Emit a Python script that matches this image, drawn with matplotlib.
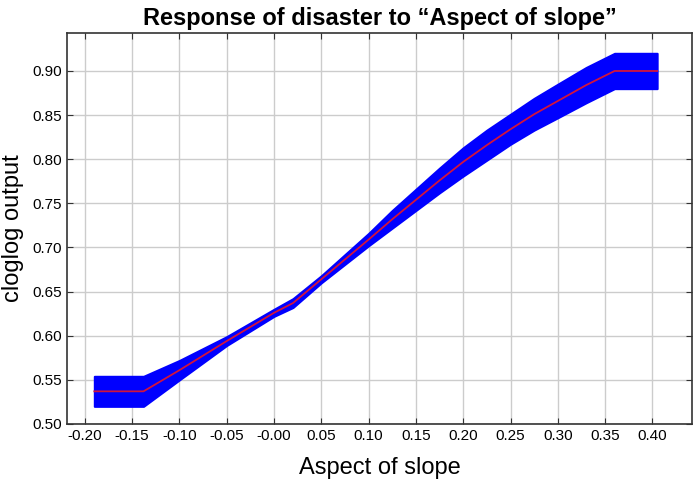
import matplotlib
matplotlib.use("Agg")
import matplotlib.pyplot as plt
import numpy as np

# response curve
aspect = [-0.19, -0.138, -0.10, -0.05, 0.00, 0.02, 0.05, 0.10, 0.125, 0.15, 0.175, 0.20,
          0.225, 0.25, 0.275, 0.30, 0.33, 0.36, 0.405]
mean_resp = [0.537, 0.537, 0.561, 0.594, 0.626, 0.637, 0.664, 0.709, 0.732, 0.754, 0.776, 0.797,
             0.816, 0.834, 0.851, 0.866, 0.884, 0.900, 0.900]
half_width = [0.017, 0.017, 0.011, 0.005, 0.004, 0.005, 0.004, 0.007, 0.010, 0.012, 0.014, 0.016,
              0.017, 0.017, 0.018, 0.019, 0.020, 0.020, 0.020]

xticks = np.arange(-0.20, 0.401, 0.05)
yticks = np.arange(0.50, 0.901, 0.05)

plt.rcParams['font.family'] = ['Liberation Sans Narrow', 'Liberation Sans', 'DejaVu Sans']

fig = plt.figure(figsize=(6.97, 4.93), dpi=100)
ax = fig.add_axes([0.096, 0.14, 0.897, 0.793])

m = np.array(mean_resp)
h = np.array(half_width)
ax.fill_between(aspect, m - h, m + h, color='#0000ff', edgecolor='#0000ff', linewidth=1.5)
ax.plot(aspect, mean_resp, color='#d2143c', linewidth=1.3)

ax.set_xlim(-0.219, 0.442)
ax.set_ylim(0.50, 0.943)
ax.set_xticks(xticks)
ax.set_xticklabels(['%.2f' % v if abs(v) > 1e-9 else '-0.00' for v in xticks])
ax.set_yticks(yticks)
ax.set_yticklabels(['%.2f' % v for v in yticks])
ax.grid(True, color='#cccccc', linewidth=1.0)
ax.set_axisbelow(True)
ax.tick_params(direction='in', top=True, right=True, labelsize=11, length=4, color='#333333')
for s in ax.spines.values():
    s.set_color('#333333')
    s.set_linewidth(1.2)

ax.set_title('Response of disaster to \u201cAspect of slope\u201d', fontsize=17, fontweight='bold', pad=6)
ax.set_xlabel('Aspect of slope', fontsize=17, labelpad=10)
ax.set_ylabel('cloglog output', fontsize=17, labelpad=6)

fig.savefig('out.png', dpi=100)
